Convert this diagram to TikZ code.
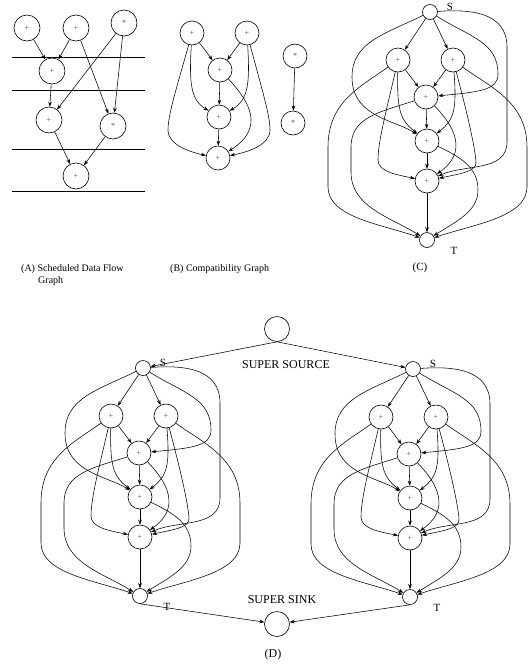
\documentclass[tikz,border=0pt]{standalone}
\usepackage{fontspec}
\setmainfont{Liberation Serif}
\usetikzlibrary{arrows.meta}

% One source/sink-extended compatibility graph, placed with its source S at (#2,#3)
\newcommand\flowgraph[3]{%
\begin{scope}[shift={(#2,#3)}]
  \node[term] (#1S) at (0,0) {};
  \node[op] (#1A) at (-32,48) {+};
  \node[op] (#1B) at (23,48) {+};
  \node[op] (#1C) at (-4,85) {+};
  \node[op] (#1D) at (-3,129) {+};
  \node[op] (#1E) at (-3,169) {+};
  \node[term] (#1T) at (-3,228) {};
  \node[lbl] (#1Sl) at (20,-5) {S};
  \node[lbl] (#1Tl) at (24,239) {T};
  % edges leaving the source
  \draw[arr] (#1S) -- (#1A);
  \draw[arr] (#1S) -- (#1B);
  \draw[arr] (#1S) .. controls (40,25) and (68,30) .. (68,62) .. controls (68,78) and (50,80) .. (#1C);
  \draw[arr] (#1S) .. controls (-45,22) and (-78,30) .. (-78,65) .. controls (-78,105) and (-35,108) .. (#1D);
  \draw[arr] (#1S) .. controls (40,-3) and (77,0) .. (77,35) -- (77,130) .. controls (77,160) and (35,152) .. (#1E);
  % compatibility edges
  \draw[arr] (#1A) -- (#1C);
  \draw[arr] (#1A) .. controls (-33,98) and (-30,108) .. (#1D);
  \draw[arr] (#1A) .. controls (-44,100) and (-52,130) .. (-52,148) .. controls (-52,160) and (-32,163) .. (#1E);
  \draw[arr] (#1B) -- (#1C);
  \draw[arr] (#1B) .. controls (27,98) and (24,108) .. (#1D);
  \draw[arr] (#1B) .. controls (37,100) and (45,135) .. (46,150) .. controls (47,160) and (28,162) .. (#1E);
  \draw[arr] (#1C) -- (#1D);
  \draw[arr] (#1C) .. controls (25,115) and (38,140) .. (#1E);
  \draw[arr] (#1D) -- (#1E);
  % edges into the sink
  \draw[arr] (#1A) .. controls (-70,75) and (-102,90) .. (-102,135) -- (-102,175) .. controls (-102,205) and (-50,212) .. (#1T);
  \draw[arr] (#1B) .. controls (60,75) and (97,90) .. (97,135) -- (97,175) .. controls (97,205) and (45,212) .. (#1T);
  \draw[arr] (#1C) .. controls (-50,100) and (-79,105) .. (-79,135) -- (-79,160) .. controls (-79,195) and (-40,205) .. (#1T);
  \draw[arr] (#1D) .. controls (30,145) and (48,155) .. (48,178) .. controls (48,200) and (25,210) .. (#1T);
  \draw[arr] (#1E) -- (#1T);
\end{scope}}

\begin{document}
\begin{tikzpicture}[x=1pt,y=-1pt,
  op/.style={circle,draw,line width=0.6pt,minimum size=24pt,inner sep=0pt,
    font=\fontsize{8}{8}\selectfont,text=black!70},
  bigop/.style={op,minimum size=26pt},
  term/.style={circle,draw,line width=0.6pt,minimum size=15pt,inner sep=0pt},
  supernode/.style={circle,draw,line width=0.6pt,minimum size=25pt,inner sep=0pt},
  arr/.style={line width=0.55pt,-{Stealth[length=5pt,width=3.6pt]}},
  lbl/.style={inner sep=0pt,font=\fontsize{11}{11}\selectfont},
  biglbl/.style={inner sep=0pt,font=\fontsize{12}{12}\selectfont},
  captext/.style={inner sep=0pt,anchor=west,font=\fontsize{10}{10}\selectfont},
  level/.style={line width=0.6pt}]
\useasboundingbox (0,0) rectangle (530,665);

% ---------- (A) scheduled data flow graph ----------
\foreach \yy in {57,90,149,191} \draw[level] (12,\yy) -- (145,\yy);
\node[bigop] (a1) at (27,28) {+};
\node[bigop] (a2) at (76,28) {+};
\node[bigop] (a3) at (124,23) {*};
\node[bigop] (a4) at (52,71) {+};
\node[bigop] (a5) at (49,120) {+};
\node[bigop] (a6) at (113,126) {*};
\node[bigop] (a7) at (76,176) {+};
\draw[arr] (a1) -- (a4);
\draw[arr] (a2) -- (a4);
\draw[arr] (a2) -- (a6);
\draw[arr] (a3) -- (a5);
\draw[arr] (a3) -- (a6);
\draw[arr] (a4) -- (a5);
\draw[arr] (a5) -- (a7);
\draw[arr] (a6) -- (a7);
\node[captext] (capA) at (21,269) {(A) Scheduled Data Flow};
\node[captext] (capA2) at (38,281) {Graph};

% ---------- (B) compatibility graph ----------
\node[op] (b1) at (192,33) {+};
\node[op] (b2) at (247,33) {+};
\node[op] (b3) at (220,70) {+};
\node[op] (b4) at (219,117) {+};
\node[op] (b5) at (218,158) {+};
\node[op] (m1) at (295,56) {*};
\node[op] (m2) at (293,123) {*};
\draw[arr] (b1) -- (b3);
\draw[arr] (b2) -- (b3);
\draw[arr] (b3) -- (b4);
\draw[arr] (b4) -- (b5);
\draw[arr] (b1) .. controls (189,85) and (191,100) .. (b4);
\draw[arr] (b1) .. controls (176,90) and (168,115) .. (168,130) .. controls (168,145) and (190,152) .. (b5);
\draw[arr] (b2) .. controls (250,85) and (248,100) .. (b4);
\draw[arr] (b2) .. controls (262,90) and (270,115) .. (270,130) .. controls (270,145) and (248,152) .. (b5);
\draw[arr] (b3) .. controls (250,102) and (265,128) .. (b5);
\draw[arr] (m1) -- (m2);
\node[captext] (capB) at (170,269) {(B) Compatibility Graph};

% ---------- (C) graph with source and sink ----------
\flowgraph{c}{430}{12}
\node[lbl] (capC) at (420,268) {(C)};

% ---------- (D) two copies joined by a super source and a super sink ----------
\flowgraph{l}{143}{368}
\flowgraph{r}{413}{369}
\node[supernode] (ss) at (277,329) {};
\node[supernode] (sk) at (277,624) {};
\draw[arr] (ss.south) -- (lS);
\draw[arr] (ss.south) -- (rS);
\draw[arr] (lT.south) -- (sk);
\draw[arr] (rT.south) -- (sk);
\node[biglbl] (ssl) at (286,365) {SUPER SOURCE};
\node[biglbl] (skl) at (282,600) {SUPER SINK};
\node[biglbl] (capD) at (273,655) {(D)};
\end{tikzpicture}
\end{document}
